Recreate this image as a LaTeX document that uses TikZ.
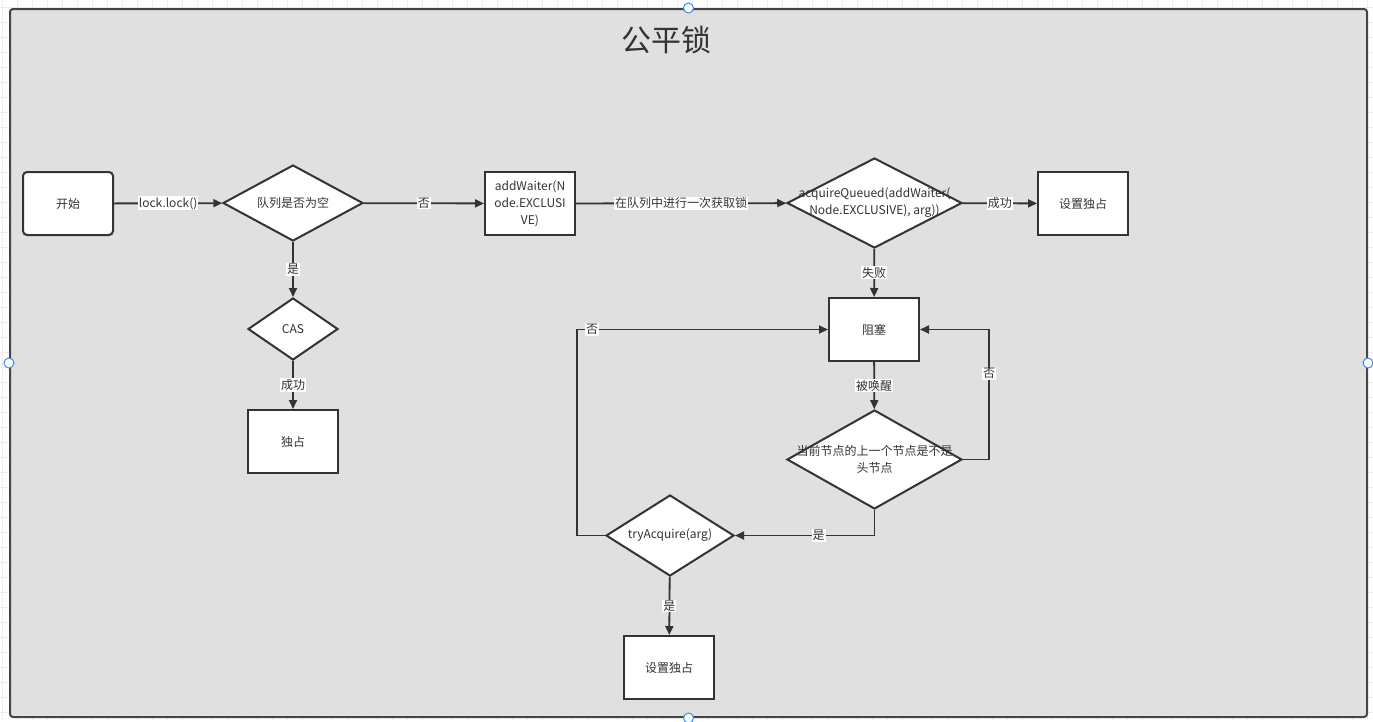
\documentclass[tikz,border=0pt]{standalone}
\usepackage{fontspec}
\setmainfont{Noto Sans CJK SC}
\usetikzlibrary{shapes.geometric,arrows.meta}
\definecolor{ln}{HTML}{333333}
\definecolor{gridc}{HTML}{EDEDED}
\definecolor{panel}{HTML}{E0E0E0}
\definecolor{framec}{HTML}{454545}
\definecolor{handlec}{HTML}{3D8AF7}
\tikzset{
  txt/.style={text=ln,font=\fontsize{12}{17}\selectfont,align=center,inner sep=0pt},
  procbox/.style={draw=ln,line width=2pt,fill=white,minimum width=90pt,minimum height=63pt,inner sep=0pt,txt},
  startbox/.style={procbox,rounded corners=4pt},
  decision/.style={diamond,draw=ln,line width=2pt,fill=white,inner sep=0pt},
  flow/.style={draw=ln,line width=1.8pt,-{Triangle[length=9pt,width=8pt]}},
  lbl/.style={fill=white,inner sep=1pt,text=ln,font=\fontsize{12}{14}\selectfont},
  handle/.style={circle,draw=handlec,fill=white,line width=1pt,minimum size=10pt,inner sep=0pt},
}
\begin{document}
\begin{tikzpicture}[x=1pt,y=-1pt]
\useasboundingbox (0,0) rectangle (1373,721);
\fill[white] (0,0) rectangle (1373,721);
\foreach \i in {0,...,91} \draw[gridc,line width=0.8pt] ({\i*15+2},0) -- ++(0,721);
\foreach \i in {0,...,48} \draw[gridc,line width=0.8pt] (0,{\i*15+7}) -- ++(1373,0);
% container
\node[draw=framec,fill=panel,line width=2pt,rounded corners=3pt,minimum width=1357pt,minimum height=708pt,inner sep=0pt] (frame) at (688.5,363) {};
\foreach \a in {north,south,east,west} \node[handle] at (frame.\a) {};
\node[text=ln,font=\fontsize{30}{36}\selectfont] (title) at (666,40) {公平锁};
% nodes
\node[startbox] (start) at (68,203.5) {开始};
\node[decision,minimum width=140pt,minimum height=76pt,label={[txt]center:队列是否为空}] (empty) at (293,203) {};
\node[decision,minimum width=90pt,minimum height=62pt,label={[txt]center:CAS}] (cas) at (293,329) {};
\node[procbox] (own) at (293,441.5) {独占};
\node[procbox] (add) at (530,203.5) {addWaiter(N\\ode.EXCLUSI\\VE)};
\node[decision,minimum width=175pt,minimum height=90pt,label={[txt]center:acquireQueued(addWaiter(\\Node.EXCLUSIVE), arg))}] (aq) at (874.5,203) {};
\node[procbox] (set1) at (1083,203.5) {设置独占};
\node[procbox] (block) at (874,329.5) {阻塞};
\node[decision,minimum width=175pt,minimum height=99pt,label={[txt]center:当前节点的上一个节点是不是\\头节点}] (cur) at (874.5,459.5) {};
\node[decision,minimum width=128pt,minimum height=81pt,label={[txt]center:tryAcquire(arg)}] (try) at (670,535.5) {};
\node[procbox] (set2) at (669,667.5) {设置独占};
% connectors
\draw[flow] (start) -- node[lbl]{lock.lock()} (empty);
\draw[flow] (empty) -- node[lbl]{否} (add);
\draw[flow] (empty) -- node[lbl]{是} (cas);
\draw[flow] (cas) -- node[lbl]{成功} (own);
\draw[flow] (add) -- node[lbl]{在队列中进行一次获取锁} (aq);
\draw[flow] (aq) -- node[lbl]{成功} (set1);
\draw[flow] (aq) -- node[lbl]{失败} (block);
\draw[flow] (block) -- node[lbl]{被唤醒} (cur);
\draw[flow] (cur.east) -- ++(26,0) |- node[lbl,pos=0.33]{否} (block.east);
\draw[flow] (cur.south) |- node[lbl,pos=0.7]{是} (try.east);
\draw[flow] (try.west) -- ++(-28,0) |- node[lbl,pos=0.53]{否} (block.west);
\draw[flow] (try) -- node[lbl]{是} (set2);
\end{tikzpicture}
\end{document}
